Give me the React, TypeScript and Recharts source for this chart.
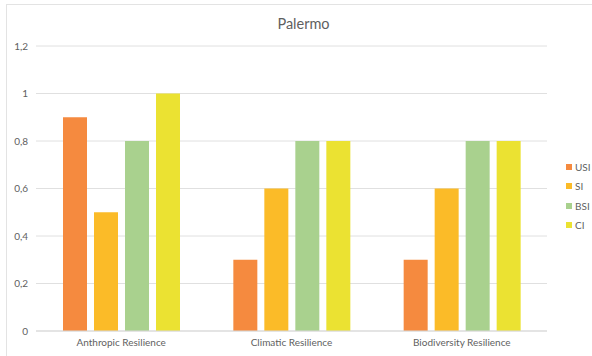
import React from "react"
import { BarChart, Bar, XAxis, YAxis, CartesianGrid, Legend } from "recharts"

const categories = ["Anthropic Resilience", "Climatic Resilience", "Biodiversity Resilience"]
const usi = [0.9, 0.3, 0.3]
const si = [0.5, 0.6, 0.6]
const bsi = [0.8, 0.8, 0.8]
const ci = [1, 0.8, 0.8]
const yTicks = [0, 0.2, 0.4, 0.6, 0.8, 1, 1.2]

const series = [
  { key: "USI", color: "#F58A3F" },
  { key: "SI", color: "#FBBB28" },
  { key: "BSI", color: "#A9D18E" },
  { key: "CI", color: "#EBE232" },
]

const data = categories.map((name, i) => ({
  name,
  USI: usi[i],
  SI: si[i],
  BSI: bsi[i],
  CI: ci[i],
}))

const font = "Lato, 'Open Sans', sans-serif"
const textColor = "#5f5f5f"

// valori con la virgola decimale
const fmt = (v: number) => String(v).replace(".", ",")

function SideLegend() {
  return (
    <div style={{ fontFamily: font, fontSize: 10, color: textColor }}>
      {series.map((s) => (
        <div key={s.key} style={{ display: "flex", alignItems: "center", height: 19.5 }}>
          <span style={{ width: 6, height: 6, background: s.color, marginRight: 3 }} />
          <span>{s.key}</span>
        </div>
      ))}
    </div>
  )
}

export default function App() {
  return (
    <div style={{ position: "absolute", left: 0, top: 0, width: 592, height: 356, background: "#fff", overflow: "hidden" }}>
      <div
        style={{
          position: "absolute",
          left: 6,
          top: 4,
          width: 620,
          height: 400,
          borderLeft: "1px solid #e3e3e3",
          borderTop: "1px solid #e3e3e3",
        }}
      />
      <div
        style={{
          position: "absolute",
          left: 0,
          width: 607,
          top: 14.5,
          textAlign: "center",
          fontFamily: font,
          fontSize: 14.5,
          color: textColor,
        }}
      >
        Palermo
      </div>
      <BarChart
        width={592}
        height={356}
        data={data}
        margin={{ top: 46, right: 45, left: 6, bottom: 5 }}
        barSize={24}
        barGap={7}
        style={{ position: "absolute", left: 0, top: 0 }}
      >
        <CartesianGrid vertical={false} stroke="#e0e0e0" />
        <XAxis
          dataKey="name"
          height={20}
          tickLine={false}
          axisLine={{ stroke: "#d9d9d9" }}
          tick={{ fontSize: 10, fill: textColor, fontFamily: font }}
        />
        <YAxis
          width={30}
          domain={[0, 1.2]}
          ticks={yTicks}
          tickFormatter={fmt}
          axisLine={false}
          tickLine={false}
          tick={{ fontSize: 10, fill: textColor, fontFamily: font }}
        />
        <Legend
          layout="vertical"
          align="center"
          verticalAlign="middle"
          content={<SideLegend />}
          wrapperStyle={{ left: 566, top: 157, width: 26 }}
        />
        {series.map((s) => (
          <Bar key={s.key} dataKey={s.key} fill={s.color} isAnimationActive={false} />
        ))}
      </BarChart>
    </div>
  )
}
